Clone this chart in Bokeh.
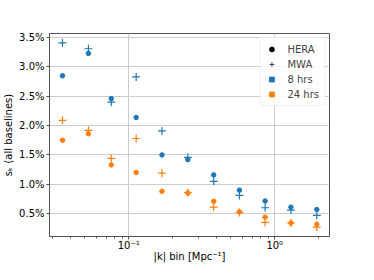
from bokeh.plotting import figure
from bokeh.models import FixedTicker, PrintfTickFormatter, Range1d, Legend, LegendItem
from bokeh.embed import file_html
from bokeh.resources import INLINE

k_bins = [0.0352, 0.053, 0.076, 0.1125, 0.169, 0.254, 0.382, 0.573, 0.859, 1.29, 1.94]
hera_8hrs = [2.85, 3.23, 2.46, 2.14, 1.50, 1.42, 1.16, 0.90, 0.715, 0.61, 0.57]
mwa_8hrs = [3.41, 3.31, 2.40, 2.83, 1.91, 1.46, 1.05, 0.81, 0.60, 0.56, 0.47]
hera_24hrs = [1.75, 1.86, 1.33, 1.20, 0.88, 0.85, 0.71, 0.53, 0.44, 0.34, 0.32]
mwa_24hrs = [2.09, 1.92, 1.44, 1.78, 1.19, 0.86, 0.61, 0.52, 0.35, 0.34, 0.27]
y_ticks = [0.5, 1.0, 1.5, 2.0, 2.5, 3.0, 3.5]
legend_dummy = [float("nan")]

BLUE = "#1f77b4"
ORANGE = "#ff7f0e"
FONT = "DejaVu Sans"

p = figure(width=358, height=264, x_axis_type="log", output_backend="svg",
           toolbar_location=None, min_border_left=39, min_border_top=33,
           min_border_right=29, min_border_bottom=27)
p.x_range = Range1d(0.0287, 2.37)
p.y_range = Range1d(0.11, 3.57)

p.xaxis.ticker = FixedTicker(ticks=[0.1, 1.0],
                             minor_ticks=[0.03, 0.04, 0.05, 0.06, 0.07, 0.08, 0.09,
                                          0.2, 0.3, 0.4, 0.5, 0.6, 0.7, 0.8, 0.9, 2.0])
p.xaxis.major_label_overrides = {0.1: "10⁻¹", 1.0: "10⁰"}
p.yaxis.ticker = FixedTicker(ticks=y_ticks, minor_ticks=[])
p.yaxis.formatter = PrintfTickFormatter(format="%.1f%%")

p.xaxis.axis_label = "|k| bin [Mpc⁻¹]"
p.yaxis.axis_label = "sₖ (all baselines)"
for ax in (p.xaxis[0], p.yaxis[0]):
    ax.axis_label_text_font = FONT
    ax.axis_label_text_font_size = "10px"
    ax.axis_label_text_font_style = "normal"
    ax.major_label_text_font = FONT
    ax.major_label_text_font_size = "10px"
    ax.major_label_text_color = "#000000"
    ax.axis_label_text_color = "#000000"
    ax.axis_line_color = "#555555"
    ax.major_tick_line_color = "#555555"
    ax.minor_tick_line_color = "#555555"
    ax.major_tick_out = 3
    ax.major_tick_in = 0
    ax.minor_tick_out = 2
    ax.minor_tick_in = 0
p.xaxis.major_label_standoff = 0
p.xaxis.axis_label_standoff = -3
p.yaxis.axis_label_standoff = 2
p.yaxis.major_label_standoff = 2

p.outline_line_color = "#555555"
p.outline_line_width = 1
p.grid.grid_line_color = "#cccccc"
p.grid.grid_line_width = 1

p.scatter(k_bins, mwa_8hrs, marker="cross", size=8, line_color=BLUE, line_width=1.2)
p.scatter(k_bins, hera_8hrs, marker="circle", size=4.5, fill_color=BLUE, line_color=BLUE)
p.scatter(k_bins, mwa_24hrs, marker="cross", size=8, line_color=ORANGE, line_width=1.2)
p.scatter(k_bins, hera_24hrs, marker="circle", size=4.5, fill_color=ORANGE, line_color=ORANGE)

r_hera = p.scatter(legend_dummy, legend_dummy, marker="circle", size=3.5, fill_color="black", line_color="black")
r_mwa = p.scatter(legend_dummy, legend_dummy, marker="cross", size=6, line_color="#444444", line_width=1)
r_8 = p.scatter(legend_dummy, legend_dummy, marker="square", size=6, fill_color=BLUE, line_color=BLUE)
r_24 = p.scatter(legend_dummy, legend_dummy, marker="square", size=6, fill_color=ORANGE, line_color=ORANGE)

legend = Legend(items=[LegendItem(label="HERA", renderers=[r_hera]),
                       LegendItem(label="MWA", renderers=[r_mwa]),
                       LegendItem(label="8 hrs", renderers=[r_8]),
                       LegendItem(label="24 hrs", renderers=[r_24])],
                location="top_right")
legend.label_text_font = FONT
legend.label_text_font_size = "10px"
legend.label_height = 12
legend.glyph_height = 12
legend.glyph_width = 12
legend.spacing = 3
legend.padding = 5
legend.margin = 4
legend.label_standoff = 10
legend.border_line_color = "#dddddd"
legend.border_line_width = 1
legend.background_fill_alpha = 0.85
p.add_layout(legend)

open("out.html", "w").write(file_html(p, INLINE))
